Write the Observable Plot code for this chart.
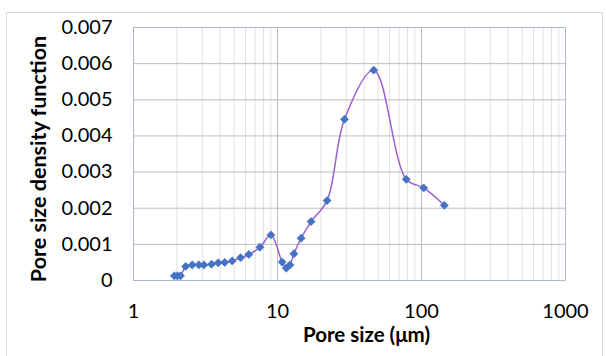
<!DOCTYPE html>
<html>
<head>
<meta charset="utf-8">
<script src="https://cdn.jsdelivr.net/npm/d3@7"></script>
<script src="https://cdn.jsdelivr.net/npm/@observablehq/plot@0.6"></script>
<style>
  html, body { margin: 0; padding: 0; background: #fff; }
  #wrap { position: relative; width: 606px; height: 356px; overflow: hidden; }
  #frame { position: absolute; left: 6px; top: 12px; width: 597px; height: 360px; border: 1px solid #d9d9d9; box-sizing: border-box; }
  #chart { position: absolute; left: 0; top: 0; }
</style>
</head>
<body>
<div id="wrap"><div id="frame"></div><div id="chart"></div></div>
<script>
// Pore size (µm) and pore size density function
const poreSize = [1.92, 2.02, 2.12, 2.3, 2.56, 2.84, 3.08, 3.48, 3.87, 4.3, 4.85, 5.54, 6.32, 7.55, 9.0, 10.77, 11.5, 12.2, 13.0, 14.6, 17.1, 22.1, 29.2, 46.6, 78.3, 103.6, 144];
const density  = [0.00013, 0.00013, 0.00013, 0.00039, 0.00043, 0.00043, 0.00043, 0.00045, 0.00049, 0.0005, 0.00054, 0.00063, 0.00072, 0.00092, 0.00126, 0.00051, 0.00034, 0.00043, 0.00074, 0.00117, 0.00163, 0.00221, 0.00446, 0.00582, 0.0028, 0.00256, 0.00208];

const xTicks = [1, 10, 100, 1000];
const xMinorTicks = [2,3,4,5,6,7,8,9, 20,30,40,50,60,70,80,90, 200,300,400,500,600,700,800,900];
const yTicks = [0, 0.001, 0.002, 0.003, 0.004, 0.005, 0.006, 0.007];
const xTitle = "Pore size (μm)";
const yTitle = "Pore size density function";

const data = poreSize.map((x, i) => ({x, y: density[i]}));

const chart = Plot.plot({
  width: 606,
  height: 356,
  marginLeft: 133,
  marginRight: 41,
  marginTop: 27,
  marginBottom: 76,
  style: {fontFamily: "Lato, 'Open Sans', sans-serif", fontSize: "20px", color: "#000", background: "transparent"},
  x: {type: "log", domain: [1, 1000]},
  y: {domain: [0, 0.007]},
  marks: [
    Plot.ruleX(xMinorTicks, {stroke: "#e2e2e2", strokeWidth: 1}),
    Plot.ruleX(xTicks, {stroke: "#bdbdbd", strokeWidth: 1}),
    Plot.ruleY(yTicks, {stroke: "#bdbdbd", strokeWidth: 1}),
    Plot.frame({stroke: "#a9b8cc", strokeWidth: 1}),
    Plot.line(data, {x: "x", y: "y", curve: "catmull-rom", stroke: "#9b5fd3", strokeWidth: 1.5}),
    Plot.dot(data, {x: "x", y: "y", symbol: "square", rotate: 45, fill: "#4472c4", stroke: "#4472c4", strokeWidth: 0.5, r: 3.3}),
    Plot.axisX(xTicks, {tickSize: 0, tickPadding: 23, tickFormat: d => String(d), label: null, fontSize: 20}),
    Plot.axisY(yTicks, {tickSize: 0, tickPadding: 21, tickFormat: d => d === 0 ? "0" : d3.format(".3f")(d), label: null, fontSize: 20}),
    Plot.text([xTitle], {frameAnchor: "bottom", dx: 17, dy: 61, fontWeight: "bold", fontSize: 20.5, textAnchor: "middle", text: d => d}),
    Plot.text([yTitle], {frameAnchor: "left", dx: -94, dy: 5, rotate: -90, fontWeight: "bold", fontSize: 21.5, textAnchor: "middle", text: d => d})
  ]
});
document.getElementById("chart").appendChild(chart);
</script>
</body>
</html>
